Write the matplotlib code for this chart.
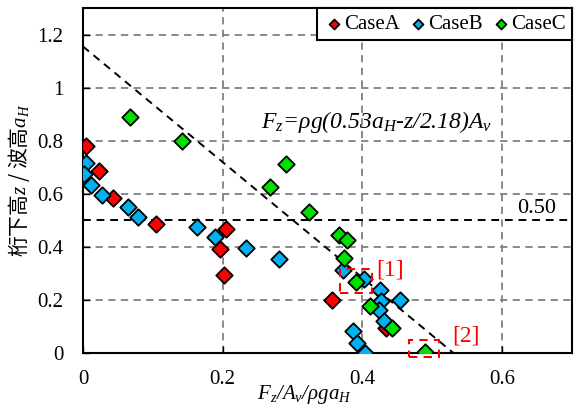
import numpy as np
import matplotlib
matplotlib.use("Agg")
import matplotlib.pyplot as plt
from matplotlib.ticker import FuncFormatter

# ── fonts ──────────────────────────────────────────
plt.rcParams["font.family"] = ["Liberation Serif", "Noto Sans CJK JP"]
plt.rcParams["mathtext.fontset"] = "custom"
plt.rcParams["mathtext.rm"] = "Liberation Serif"
plt.rcParams["mathtext.it"] = "Liberation Serif:italic"

# ── data ───────────────────────────────────────────
case_a_x = [0.005, 0.023, 0.043, 0.104, 0.204, 0.196, 0.202, 0.357, 0.433]
case_a_y = [0.782, 0.686, 0.586, 0.487, 0.469, 0.391, 0.294, 0.200, 0.095]

case_b_x = [0.005, 0.001, 0.012, 0.027, 0.064, 0.079, 0.163, 0.189, 0.233,
            0.281, 0.372, 0.402, 0.425, 0.454, 0.427, 0.424, 0.431, 0.387,
            0.392, 0.404]
case_b_y = [0.716, 0.675, 0.633, 0.594, 0.552, 0.514, 0.474, 0.437, 0.397,
            0.356, 0.313, 0.280, 0.238, 0.200, 0.194, 0.162, 0.122, 0.084,
            0.039, 0.000]

case_c_x = [0.067, 0.142, 0.291, 0.268, 0.324, 0.366, 0.378, 0.373, 0.391,
            0.411, 0.442, 0.490]
case_c_y = [0.889, 0.800, 0.712, 0.624, 0.533, 0.445, 0.426, 0.357, 0.269,
            0.177, 0.093, 0.003]

# fit line: z/aH = 2.18 * (0.53 - Fz/(Av rho g aH))
fit_x = np.array([0.0, 0.537])
fit_y = 2.18 * (0.53 - fit_x)

fig = plt.figure(figsize=(5.82, 4.08), dpi=100)
ax = fig.add_axes([0.1426, 0.135, 0.8404, 0.845])

ax.set_xlim(0, 0.7)
ax.set_ylim(0, 1.3)
ax.set_xticks([0, 0.2, 0.4, 0.6])
ax.set_yticks([0, 0.2, 0.4, 0.6, 0.8, 1.0, 1.2])
fmt = FuncFormatter(lambda v, p: f"{v:g}")
ax.xaxis.set_major_formatter(fmt)
ax.yaxis.set_major_formatter(fmt)
ax.tick_params(direction="in", length=5, width=1, labelsize=15)
ax.tick_params(axis="x", pad=12)
ax.tick_params(axis="y", pad=14)
ax.grid(True, color="#808080", linestyle=(0, (4, 3)), linewidth=1.3)
ax.set_axisbelow(True)
for s in ax.spines.values():
    s.set_linewidth(1.5)

# reference lines
ax.axhline(0.5, color="black", linestyle=(0, (4, 3)), linewidth=1.4, zorder=2)
ax.plot(fit_x, fit_y, color="black", linestyle=(0, (4, 3)), linewidth=1.4, zorder=2)

mk = dict(marker="D", s=70, edgecolors="black", linewidths=1.3, zorder=3)
ax.scatter(case_a_x, case_a_y, c="#FF0000", label="CaseA", **mk)
ax.scatter(case_b_x, case_b_y, c="#00B0F0", label="CaseB", **mk)
ax.scatter(case_c_x, case_c_y, c="#00E000", label="CaseC", **mk)

# highlighted points
ax.add_patch(plt.Rectangle((0.368, 0.225), 0.045, 0.091, fill=False, edgecolor="red",
                           linestyle=(0, (4, 3)), linewidth=1.5, zorder=4))
ax.add_patch(plt.Rectangle((0.466, -0.016), 0.044, 0.065, fill=False, edgecolor="red",
                           linestyle=(0, (4, 3)), linewidth=1.5, zorder=4, clip_on=False))
ax.text(0.420, 0.313, "[1]", color="red", fontsize=17, ha="left", va="center")
ax.text(0.529, 0.062, "[2]", color="red", fontsize=17, ha="left", va="center")

ax.text(0.677, 0.546, "0.50", fontsize=16, ha="right", va="center")
ax.text(0.255, 0.87, r"F$_z$=ρg(0.53a$_H$-z/2.18)A$_v$", fontsize=17,
        fontstyle="italic", ha="left", va="center")

ax.set_xlabel(r"F$_z$/A$_v$/ρga$_H$", fontsize=15, fontstyle="italic")
ax.xaxis.set_label_coords(0.452, -0.088)
ax.set_ylabel(r"桁下高$z$ / 波高$a_H$", fontsize=15, family=["Noto Sans CJK JP"])
ax.yaxis.set_label_coords(-0.104, 0.5)

leg = ax.legend(loc="upper right", bbox_to_anchor=(1, 1), borderaxespad=0, ncol=3,
                fontsize=15, markerscale=0.6, handletextpad=0.0, handlelength=1.0,
                columnspacing=0.35, fancybox=False, framealpha=1, borderpad=0.3)
leg.get_frame().set_edgecolor("black")
leg.get_frame().set_linewidth(1.5)

plt.savefig("out.png", dpi=100)
